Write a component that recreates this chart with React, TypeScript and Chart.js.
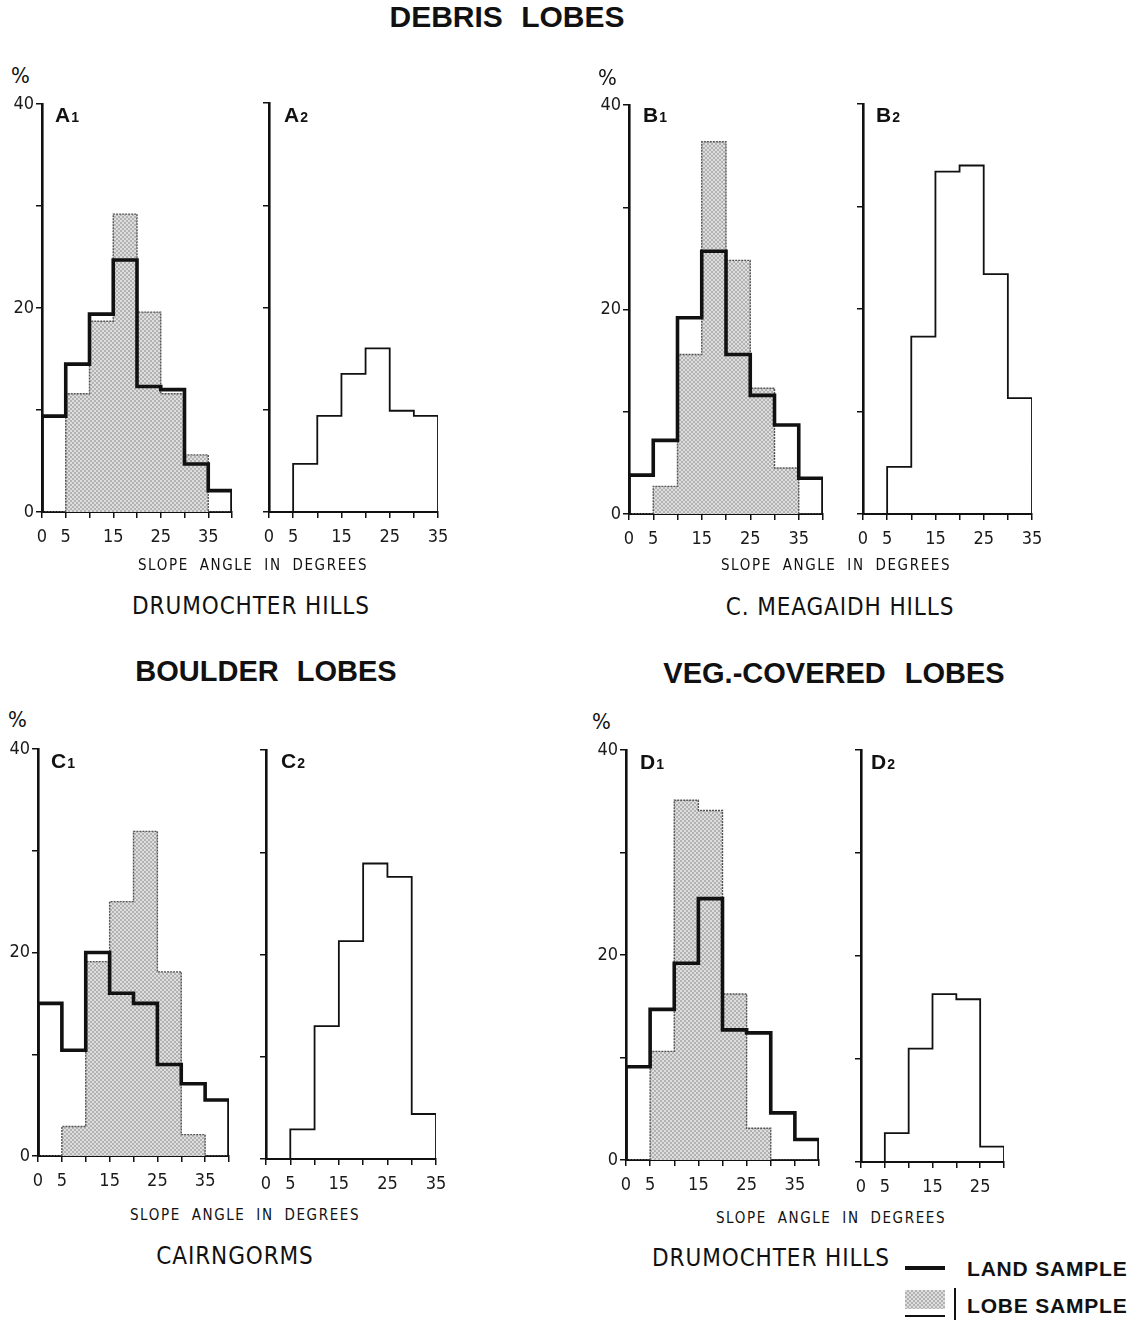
import React, { useEffect, useRef } from "react";
import { Chart, registerables } from "chart.js";

Chart.register(...registerables);

// ---------- data ----------
const BIN_EDGES = [0, 5, 10, 15, 20, 25, 30, 35, 40];
const X_TICK_LABELS = ["0", "5", "15", "25", "35"];
const Y_TICK_LABELS = ["0", "20", "40"];

// % of sample per 5-degree slope class (0-5, 5-10, ...)
const A1_LAND = [9.4, 14.5, 19.4, 24.7, 12.3, 12.0, 4.7, 2.1];
const A1_LOBE = [0, 11.6, 18.7, 29.2, 19.6, 11.6, 5.6, 0];
const A2_LOBE = [0, 4.7, 9.4, 13.5, 16.0, 9.9, 9.4];

const B1_LAND = [3.8, 7.2, 19.2, 25.7, 15.6, 11.6, 8.7, 3.5];
const B1_LOBE = [0, 2.7, 15.6, 36.4, 24.8, 12.3, 4.5, 0];
const B2_LOBE = [0, 4.6, 17.3, 33.4, 34.0, 23.4, 11.3];

const C1_LAND = [15.0, 10.4, 20.0, 16.0, 15.0, 9.0, 7.1, 5.5];
const C1_LOBE = [0, 2.9, 19.1, 25.0, 31.9, 18.1, 2.1, 0];
const C2_LOBE = [0, 2.9, 13.0, 21.3, 28.9, 27.6, 4.4];

const D1_LAND = [9.1, 14.7, 19.2, 25.5, 12.7, 12.4, 4.6, 2.0];
const D1_LOBE = [0, 10.6, 35.1, 34.1, 16.2, 3.1, 0, 0];
const D2_LOBE = [0, 2.8, 11.0, 16.3, 15.8, 1.5];

// ---------- layout ----------
const NARROW = "'Liberation Sans Narrow', 'DejaVu Sans Condensed', 'Arial Narrow', Arial, sans-serif";
const BOLD = "'Liberation Sans', Arial, Helvetica, sans-serif";
const PAD_T = 16;
const PAD_R = 16;
const X_H = 46;

type PanelCfg = {
  key: string;
  left: number;
  top: number;
  right: number;
  bottom: number;
  xMax: number;
  land: number[] | null;
  lobe: number[];
  primary: boolean;
};

const PANELS: PanelCfg[] = [
  { key: "A1", left: 42, top: 103.5, right: 232, bottom: 511.5, xMax: 40, land: A1_LAND, lobe: A1_LOBE, primary: true },
  { key: "A2", left: 269, top: 103.3, right: 437.7, bottom: 512.7, xMax: 35, land: null, lobe: A2_LOBE, primary: false },
  { key: "B1", left: 629, top: 105, right: 823, bottom: 514, xMax: 40, land: B1_LAND, lobe: B1_LOBE, primary: true },
  { key: "B2", left: 862.7, top: 104, right: 1032, bottom: 514, xMax: 35, land: null, lobe: B2_LOBE, primary: false },
  { key: "C1", left: 38.3, top: 749.3, right: 229, bottom: 1156, xMax: 40, land: C1_LAND, lobe: C1_LOBE, primary: true },
  { key: "C2", left: 266, top: 750, right: 435.7, bottom: 1159.3, xMax: 35, land: null, lobe: C2_LOBE, primary: false },
  { key: "D1", left: 625.7, top: 750, right: 818.3, bottom: 1160, xMax: 40, land: D1_LAND, lobe: D1_LOBE, primary: true },
  { key: "D2", left: 860.7, top: 750, right: 1004, bottom: 1161.7, xMax: 30, land: null, lobe: D2_LOBE, primary: false },
];

function stepPoints(values: number[]) {
  const pts = [{ x: BIN_EDGES[0], y: 0 }];
  values.forEach((v, i) => pts.push({ x: BIN_EDGES[i], y: v }));
  const end = BIN_EDGES[values.length];
  pts.push({ x: end, y: values[values.length - 1] });
  pts.push({ x: end, y: 0 });
  return pts;
}

function makePattern(): CanvasPattern | string {
  const c = document.createElement("canvas");
  c.width = 4;
  c.height = 4;
  const ctx = c.getContext("2d");
  if (!ctx) return "#cfcfcf";
  ctx.fillStyle = "#dedede";
  ctx.fillRect(0, 0, 4, 4);
  ctx.fillStyle = "#b2b2b2";
  ctx.fillRect(0, 0, 2, 2);
  ctx.fillRect(2, 2, 2, 2);
  const p = ctx.createPattern(c, "repeat");
  return p || "#cfcfcf";
}

function Panel({ cfg }: { cfg: PanelCfg }) {
  const ref = useRef<HTMLCanvasElement | null>(null);
  const yW = cfg.primary ? 40 : 14;
  const W = Math.round(cfg.right - cfg.left + yW + PAD_R);
  const H = Math.round(cfg.bottom - cfg.top + PAD_T + X_H);
  const cLeft = cfg.left - yW;
  const cTop = cfg.top - PAD_T;

  useEffect(() => {
    if (!ref.current) return;
    const datasets: any[] = [];
    if (cfg.land) {
      datasets.push({
        label: "LAND SAMPLE",
        data: stepPoints(cfg.land),
        stepped: "before",
        borderColor: "#111",
        borderWidth: 3.6,
        fill: false,
        pointRadius: 0,
        borderJoinStyle: "miter",
      });
    }
    datasets.push({
      label: "LOBE SAMPLE",
      data: stepPoints(cfg.lobe),
      stepped: "before",
      borderColor: cfg.primary ? "#555" : "#111",
      borderWidth: cfg.primary ? 1.4 : 1.8,
      borderDash: cfg.primary ? [2, 1] : [],
      backgroundColor: cfg.primary ? makePattern() : "transparent",
      fill: cfg.primary ? "origin" : false,
      pointRadius: 0,
      borderJoinStyle: "miter",
    });

    const tickFont = { family: NARROW, size: 18 };
    const chart = new Chart(ref.current, {
      type: "line",
      data: { datasets },
      options: {
        animation: false,
        responsive: false,
        events: [],
        layout: { padding: { top: PAD_T, right: PAD_R, left: 0, bottom: 0 } },
        plugins: { legend: { display: false }, tooltip: { enabled: false }, title: { display: false } },
        scales: {
          x: {
            type: "linear",
            min: 0,
            max: cfg.xMax,
            afterFit: (s: any) => {
              s.height = X_H;
              s.paddingLeft = 0;
              s.paddingRight = 0;
            },
            ticks: {
              stepSize: 5,
              autoSkip: false,
              maxRotation: 0,
              padding: 9,
              color: "#1a1a1a",
              font: tickFont,
              callback: (v: any) => (X_TICK_LABELS.includes(String(v)) ? String(v) : ""),
            },
            grid: { drawOnChartArea: false, drawTicks: true, tickLength: 6, tickColor: "#111", lineWidth: 1.5 },
            border: { display: true, color: "#111", width: 2 },
          },
          y: {
            type: "linear",
            min: 0,
            max: 40,
            afterFit: (s: any) => {
              s.width = yW;
              s.paddingTop = 0;
              s.paddingBottom = 0;
            },
            ticks: {
              stepSize: 10,
              padding: 2,
              color: "#1a1a1a",
              font: tickFont,
              callback: (v: any) => (cfg.primary && Y_TICK_LABELS.includes(String(v)) ? String(v) : ""),
            },
            grid: { drawOnChartArea: false, drawTicks: true, tickLength: 6, tickColor: "#111", lineWidth: 1.5 },
            border: { display: true, color: "#111", width: 2.6 },
          },
        },
      } as any,
    });
    return () => chart.destroy();
  }, []);

  return (
    <canvas
      ref={ref}
      width={W}
      height={H}
      style={{ position: "absolute", left: cLeft, top: cTop, width: W, height: H }}
    />
  );
}

function Txt(props: { x: number; y: number; size: number; bold?: boolean; narrow?: boolean; center?: boolean; ls?: number; ws?: number; children: React.ReactNode }) {
  const { x, y, size, bold, narrow, center, ls, ws, children } = props;
  return (
    <div
      style={{
        position: "absolute",
        left: x,
        top: y,
        transform: center ? "translateX(-50%)" : undefined,
        fontFamily: narrow ? NARROW : BOLD,
        fontWeight: bold ? 700 : 400,
        fontSize: size,
        lineHeight: 1,
        letterSpacing: ls ? ls : 0,
        wordSpacing: ws ? ws : 0,
        whiteSpace: "nowrap",
        color: "#111",
      }}
    >
      {children}
    </div>
  );
}

function PanelLabel({ x, y, letter, idx }: { x: number; y: number; letter: string; idx: string }) {
  return (
    <div style={{ position: "absolute", left: x, top: y, fontFamily: BOLD, fontWeight: 700, fontSize: 21, lineHeight: 1, color: "#111", whiteSpace: "nowrap" }}>
      {letter}
      <span style={{ fontSize: 14, marginLeft: 1 }}>{idx}</span>
    </div>
  );
}

export default function App() {
  useEffect(() => {
    document.body.style.margin = "0";
  }, []);
  return (
    <div style={{ position: "absolute", left: 0, top: 0, width: 1140, height: 1320, overflow: "hidden", background: "#fff" }}>
      {PANELS.map((p) => (
        <Panel key={p.key} cfg={p} />
      ))}

      <Txt x={507} y={2} size={30} bold center ws={10}>DEBRIS LOBES</Txt>
      <Txt x={266} y={657} size={29} bold center ws={10}>BOULDER LOBES</Txt>
      <Txt x={834} y={659} size={29} bold center ws={11}>VEG.-COVERED LOBES</Txt>

      <Txt x={11} y={65} size={22} narrow>%</Txt>
      <Txt x={598} y={67} size={22} narrow>%</Txt>
      <Txt x={8} y={709} size={22} narrow>%</Txt>
      <Txt x={592} y={711} size={22} narrow>%</Txt>

      <PanelLabel x={55} y={104} letter="A" idx="1" />
      <PanelLabel x={284} y={104} letter="A" idx="2" />
      <PanelLabel x={643} y={104} letter="B" idx="1" />
      <PanelLabel x={876} y={104} letter="B" idx="2" />
      <PanelLabel x={51} y={750} letter="C" idx="1" />
      <PanelLabel x={281} y={750} letter="C" idx="2" />
      <PanelLabel x={640} y={751} letter="D" idx="1" />
      <PanelLabel x={871} y={751} letter="D" idx="2" />

      <Txt x={253} y={558} size={15} narrow center ls={1.6} ws={5}>SLOPE ANGLE IN DEGREES</Txt>
      <Txt x={836} y={558} size={15} narrow center ls={1.6} ws={5}>SLOPE ANGLE IN DEGREES</Txt>
      <Txt x={245} y={1208} size={15} narrow center ls={1.6} ws={5}>SLOPE ANGLE IN DEGREES</Txt>
      <Txt x={831} y={1211} size={15} narrow center ls={1.6} ws={5}>SLOPE ANGLE IN DEGREES</Txt>

      <Txt x={251} y={594} size={24} narrow center ls={0.9}>DRUMOCHTER HILLS</Txt>
      <Txt x={840} y={595} size={24} narrow center ls={0.9}>C. MEAGAIDH HILLS</Txt>
      <Txt x={235} y={1244} size={24} narrow center ls={0.9}>CAIRNGORMS</Txt>
      <Txt x={771} y={1246} size={24} narrow center ls={0.9}>DRUMOCHTER HILLS</Txt>

      {/* legend */}
      <div style={{ position: "absolute", left: 905, top: 1266, width: 40, height: 3.5, background: "#111" }} />
      <Txt x={967} y={1258} size={21} bold ls={0.8}>LAND SAMPLE</Txt>
      <div
        style={{
          position: "absolute",
          left: 905,
          top: 1290,
          width: 40,
          height: 19,
          backgroundColor: "#cfcfcf",
          backgroundImage: "repeating-conic-gradient(#b2b2b2 0% 25%, #dedede 0% 50%)",
          backgroundSize: "4px 4px",
        }}
      />
      <div style={{ position: "absolute", left: 954, top: 1288, width: 1.5, height: 32, background: "#111" }} />
      <div style={{ position: "absolute", left: 905, top: 1315, width: 40, height: 1.5, background: "#111" }} />
      <Txt x={967} y={1295} size={21} bold ls={0.8}>LOBE SAMPLE</Txt>
    </div>
  );
}
